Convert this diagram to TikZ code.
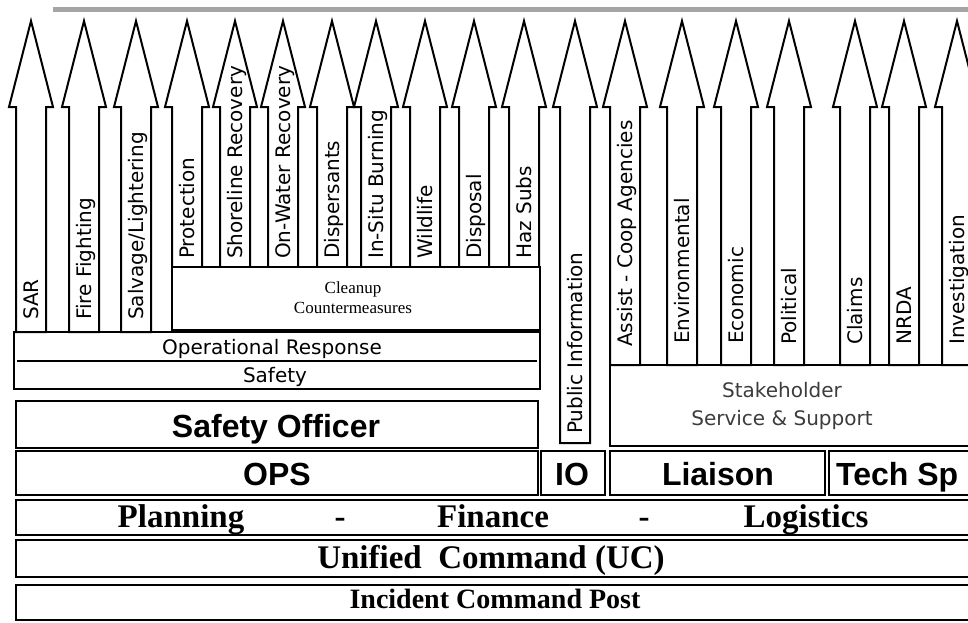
\documentclass[tikz,border=0pt]{standalone}
\usepackage{fontspec}
\usepackage{xcolor}
\usepackage{tikz}
\setmainfont{Liberation Serif}
\newfontfamily\arialf{Liberation Sans}
\newfontfamily\dejavu{DejaVu Sans}
\definecolor{GrisBarra}{RGB}{165,165,165}
\definecolor{GrisTexto}{RGB}{60,60,60}
\newcommand{\flecha}[5]{%
  \draw[flecha] (#2-15,#3) -- (#2-15,107) -- (#2-22,107) -- (#2,21) -- (#2+22,107) -- (#2+15,107) -- (#2+15,#3) -- cycle;
  \node[rotulo] (#1) at (#2,#4) {#5};}

\begin{document}
\begin{tikzpicture}[x=1pt,y=-1pt,
  caja/.style={line width=2pt},
  flecha/.style={line width=2pt,line join=miter,fill=white},
  rotulo/.style={rotate=90,anchor=west,inner sep=0pt,text height=14pt,text depth=0pt,font=\dejavu\fontsize{20}{20}\selectfont},
  media/.style={anchor=base,inner sep=0pt,font=\dejavu\fontsize{20}{28}\selectfont},
  grande/.style={anchor=base,inner sep=0pt,font=\arialf\bfseries\fontsize{32}{32}\selectfont},
  romana/.style={anchor=base,inner sep=0pt,font=\bfseries\fontsize{33}{33}\selectfont}]
  \useasboundingbox (0,0) rectangle (968,622);
  \clip (0,0) rectangle (968,622);
  \fill[GrisBarra] (53,7) rectangle (968,12);
  \flecha{sar}{31}{332}{320}{SAR}
  \flecha{fire}{84}{332}{320}{Fire Fighting}
  \flecha{salvage}{136}{332}{320}{Salvage/Lightering}
  \flecha{protection}{187}{267}{259}{Protection}
  \flecha{shoreline}{235}{267}{259}{Shoreline Recovery}
  \flecha{onwater}{283}{267}{259}{On-Water Recovery}
  \flecha{dispersants}{332}{267}{259}{Dispersants}
  \flecha{insitu}{376}{267}{259}{In-Situ Burning}
  \flecha{wildlife}{425}{267}{259}{Wildlife}
  \flecha{disposal}{474}{267}{259}{Disposal}
  \flecha{hazsubs}{524}{267}{259}{Haz Subs}
  \flecha{pubinfo}{575}{443}{434}{Public Information}
  \flecha{assist}{625}{365}{347}{Assist - Coop Agencies}
  \flecha{environ}{682}{365}{344}{Environmental}
  \flecha{econ}{736}{365}{344}{Economic}
  \flecha{politic}{789}{365}{345}{Political}
  \flecha{claims}{855}{365}{345}{Claims}
  \flecha{nrda}{904}{365}{345}{NRDA}
  \flecha{invest}{957}{365}{345}{Investigation}
  \draw[caja,fill=white] (172,267) rectangle (540,330);
  \node[anchor=base,align=center,inner sep=0pt,font=\fontsize{17}{20}\selectfont] (cleanup) at (353,313) {Cleanup\\Countermeasures};
  \draw[caja] (14,332) rectangle (540,389);
  \draw[caja] (17,361) -- (537,361);
  \node[media] (opresp) at (272,354) {Operational Response};
  \node[media] (safety) at (275,382) {Safety};
  \draw[caja] (16,401) rectangle (538,448);
  \node[grande] (safeoff) at (276,437) {Safety Officer};
  \draw[caja] (16,451) rectangle (538,495);
  \node[grande] (ops) at (277,485) {OPS};
  \draw[caja] (541,451) rectangle (605,495);
  \node[grande] (io) at (572,485) {IO};
  \draw[caja] (610,365) rectangle (990,446);
  \node[media,align=center,text=GrisTexto] (stake) at (782,425) {Stakeholder\\Service \& Support};
  \draw[caja] (610,451) rectangle (825,495);
  \node[grande] (liaison) at (718,485) {Liaison};
  \draw[caja] (829,451) rectangle (990,495);
  \node[grande,anchor=base west] (techsp) at (836,485) {Tech Sp};
  \draw[caja] (16,500) rectangle (990,535);
  \node[romana] (planning) at (181,527) {Planning};
  \node[romana] (guion1) at (340,527) {-};
  \node[romana] (finance) at (493,527) {Finance};
  \node[romana] (guion2) at (644,527) {-};
  \node[romana] (logistics) at (806,527) {Logistics};
  \draw[caja] (16,540) rectangle (990,577);
  \node[romana] (uc) at (491,568) {Unified\ \ Command (UC)};
  \draw[caja] (16,585) rectangle (990,620);
  \node[romana,font=\bfseries\fontsize{28}{28}\selectfont] (icp) at (495,608) {Incident Command Post};
\end{tikzpicture}
\end{document}
